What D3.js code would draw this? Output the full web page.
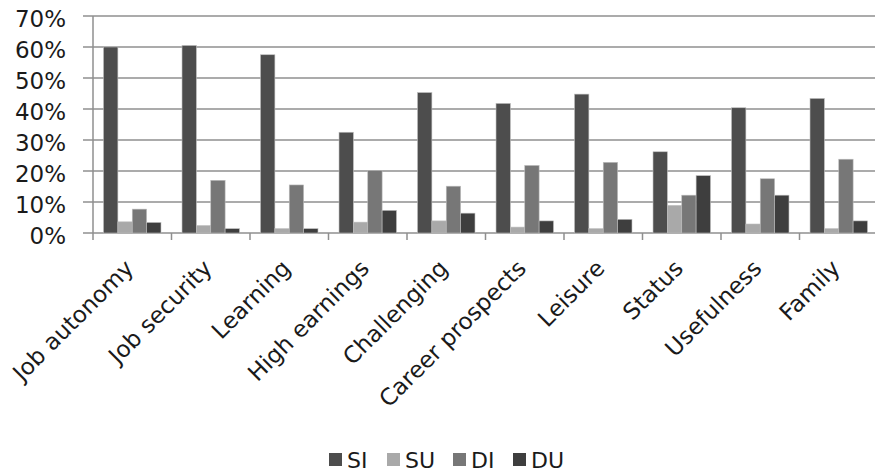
<!DOCTYPE html>
<html>
<head>
<meta charset="utf-8">
<script src="https://cdn.jsdelivr.net/npm/d3@7"></script>
<style>
  html, body { margin: 0; padding: 0; background: #fff; }
  svg { display: block; font-family: "DejaVu Sans", Verdana, sans-serif; }
</style>
</head>
<body>
<svg id="chart" width="875" height="473"></svg>
<script>
// Work values: share of respondents per category and group (percent)
const categories = ["Job autonomy", "Job security", "Learning", "High earnings", "Challenging",
                    "Career prospects", "Leisure", "Status", "Usefulness", "Family"];
const seriesNames = ["SI", "SU", "DI", "DU"];
const SI = [60.0, 60.5, 57.5, 32.5, 45.3, 41.8, 44.8, 26.2, 40.4, 43.4];
const SU = [3.6, 2.4, 1.4, 3.5, 3.9, 1.9, 1.4, 8.9, 2.9, 1.4];
const DI = [7.7, 17.0, 15.5, 20.2, 15.1, 21.8, 22.8, 12.2, 17.5, 23.8];
const DU = [3.4, 1.4, 1.4, 7.3, 6.4, 3.9, 4.4, 18.5, 12.2, 3.9];
const yTicks = [0, 10, 20, 30, 40, 50, 60, 70];

const series = [SI, SU, DI, DU];
const colors = ["#4d4d4d", "#a9a9a9", "#777777", "#3e3e3e"];

const svg = d3.select("#chart");
const plot = { left: 93, right: 878, top: 16, bottom: 233 };

const x = d3.scaleBand()
  .domain(categories)
  .range([plot.left, plot.right])
  .paddingInner(0.268)
  .paddingOuter(0.134);
const step = x.step();
const xs = d3.scaleBand().domain(seriesNames).range([0, x.bandwidth()]).padding(0);
const y = d3.scaleLinear().domain([0, 70]).range([plot.bottom, plot.top]);

const gridColor = "#8f8f8f";

// Horizontal gridlines, extended left of the axis as tick marks
svg.append("g")
  .selectAll("line")
  .data(yTicks)
  .join("line")
  .attr("x1", plot.left - 10)
  .attr("x2", 875)
  .attr("y1", d => y(d))
  .attr("y2", d => y(d))
  .attr("stroke", gridColor)
  .attr("stroke-width", 1.5);

// Y axis line
svg.append("line")
  .attr("x1", plot.left).attr("x2", plot.left)
  .attr("y1", y(70)).attr("y2", y(0))
  .attr("stroke", gridColor).attr("stroke-width", 1.5);

// Y tick labels
svg.append("g")
  .selectAll("text")
  .data(yTicks)
  .join("text")
  .attr("x", 66)
  .attr("y", d => y(d) + 3)
  .attr("dy", "0.36em")
  .attr("text-anchor", "end")
  .attr("font-size", 23)
  .attr("fill", "#1a1a1a")
  .text(d => d + "%");

// Bars
const groups = svg.append("g")
  .selectAll("g")
  .data(categories)
  .join("g")
  .attr("transform", d => `translate(${x(d)},0)`);

groups.selectAll("rect")
  .data((c, i) => seriesNames.map((s, k) => ({ s, v: series[k][i], k })))
  .join("rect")
  .attr("x", d => xs(d.s))
  .attr("width", xs.bandwidth())
  .attr("y", d => y(d.v))
  .attr("height", d => y(0) - y(d.v))
  .attr("fill", d => colors[d.k])
  .attr("stroke", "#bdbdbd")
  .attr("stroke-width", 0.6);

// X axis ticks at category boundaries
const boundaries = d3.range(categories.length + 1).map(i => plot.left + i * step);
svg.append("g")
  .selectAll("line")
  .data(boundaries)
  .join("line")
  .attr("x1", d => d).attr("x2", d => d)
  .attr("y1", y(0)).attr("y2", y(0) + 7)
  .attr("stroke", gridColor).attr("stroke-width", 1.5);

// Rotated category labels
svg.append("g")
  .selectAll("text")
  .data(categories)
  .join("text")
  .attr("transform", d => `translate(${x(d) + x.bandwidth() / 2 - 3},${264}) rotate(-45)`)
  .attr("text-anchor", "end")
  .attr("dy", "0.35em")
  .attr("font-size", 23)
  .attr("fill", "#1a1a1a")
  .text(d => d);

// Legend
const legendX = [329, 387, 453, 513];
const legend = svg.append("g")
  .selectAll("g")
  .data(seriesNames)
  .join("g")
  .attr("transform", (d, i) => `translate(${legendX[i]},453)`);
legend.append("rect")
  .attr("width", 13).attr("height", 13)
  .attr("fill", (d, i) => colors[i]);
legend.append("text")
  .attr("x", 18).attr("y", 7)
  .attr("dy", "0.36em")
  .attr("font-size", 22)
  .attr("fill", "#1a1a1a")
  .text(d => d);
</script>
</body>
</html>
